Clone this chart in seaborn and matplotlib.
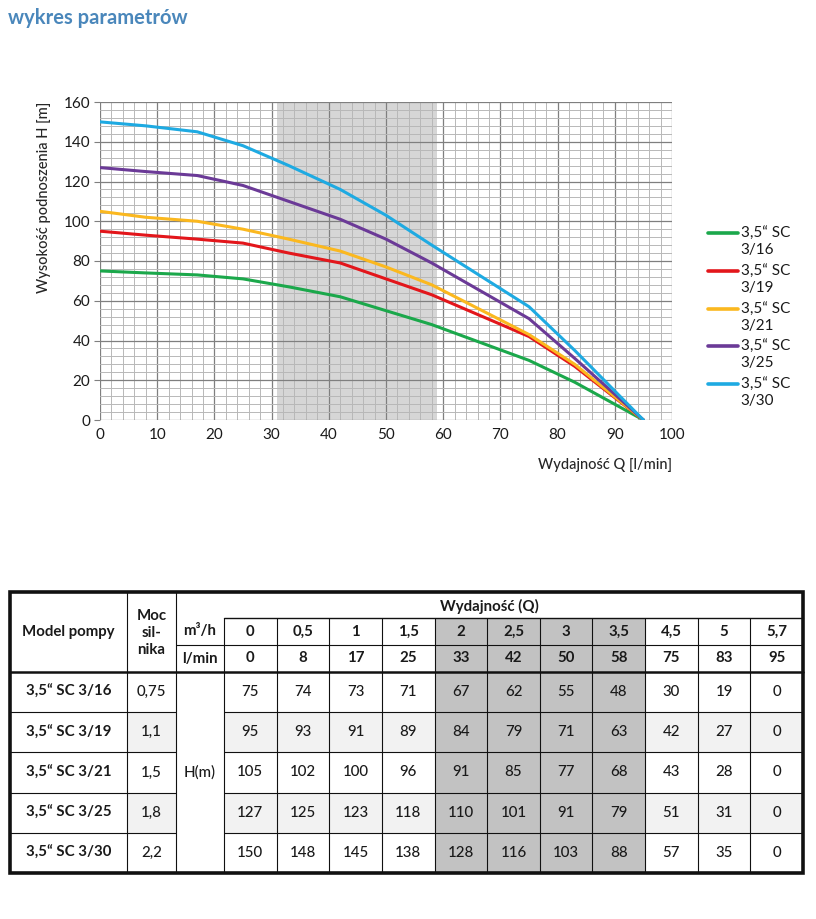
import numpy as np
import pandas as pd
import seaborn as sns
import matplotlib.pyplot as plt
from matplotlib.patches import Rectangle
from matplotlib.ticker import MultipleLocator
from matplotlib.legend_handler import HandlerLine2D

# Pump curve data
flow_m3h = ["0", "0,5", "1", "1,5", "2", "2,5", "3", "3,5", "4,5", "5", "5,7"]
flow_lmin = [0, 8, 17, 25, 33, 42, 50, 58, 75, 83, 95]
models = ["3,5“ SC 3/16", "3,5“ SC 3/19", "3,5“ SC 3/21", "3,5“ SC 3/25", "3,5“ SC 3/30"]
power_kw = ["0,75", "1,1", "1,5", "1,8", "2,2"]
head_3_16 = [75, 74, 73, 71, 67, 62, 55, 48, 30, 19, 0]
head_3_19 = [95, 93, 91, 89, 84, 79, 71, 63, 42, 27, 0]
head_3_21 = [105, 102, 100, 96, 91, 85, 77, 68, 43, 28, 0]
head_3_25 = [127, 125, 123, 118, 110, 101, 91, 79, 51, 31, 0]
head_3_30 = [150, 148, 145, 138, 128, 116, 103, 88, 57, 35, 0]
heads = [head_3_16, head_3_19, head_3_21, head_3_25, head_3_30]
colors = ["#1ba84b", "#e3161b", "#fbb81f", "#6b3a97", "#1eaae2"]
optimal_range = (31, 59)      # shaded working range [l/min]
shaded_cols = [4, 5, 6, 7]    # table columns inside that range

# long-form table for seaborn
rows = []
for model, h in zip(models, heads):
    for q, v in zip(flow_lmin, h):
        rows.append({"model": model, "Q": q, "H": v})
df = pd.DataFrame(rows)

sns.set_theme(style="white")
plt.rcParams["font.family"] = ["Lato", "DejaVu Sans"]
plt.rcParams["text.color"] = "#1a1a1a"

W, H = 816, 919
fig = plt.figure(figsize=(W / 100, H / 100), dpi=100)
fig.patch.set_facecolor("white")

# ---------------- chart ----------------
ax = fig.add_axes([100 / W, 1 - 420 / H, 572 / W, 318 / H])
ax.axvspan(*optimal_range, color="#d6d6d6", zorder=0, lw=0)
ax.xaxis.set_major_locator(MultipleLocator(10))
ax.xaxis.set_minor_locator(MultipleLocator(2))
ax.yaxis.set_major_locator(MultipleLocator(20))
ax.yaxis.set_minor_locator(MultipleLocator(4))
ax.grid(which="minor", color="#b8b8b8", lw=0.7, zorder=1)
ax.grid(which="major", color="#7f7f7f", lw=0.9, zorder=1)
ax.set_axisbelow(True)

sns.lineplot(data=df, x="Q", y="H", hue="model", palette=colors,
             lw=2.2, ax=ax, zorder=3, legend=False)

ax.set_xlim(0, 100)
ax.set_ylim(0, 160)
for s in ax.spines.values():
    s.set_visible(False)
ax.tick_params(axis="both", which="major", labelsize=11, colors="#1a1a1a",
               length=4, width=0.8, pad=3)
ax.tick_params(axis="x", length=0, pad=6)
ax.tick_params(which="minor", length=0)
ax.tick_params(axis="y", color="#7f7f7f", left=True)
ax.set_xlabel("Wydajność Q [l/min]", loc="right", fontsize=10.5, fontweight="medium",
              labelpad=11)
ax.set_ylabel("Wysokość podnoszenia H [m]", loc="top", fontsize=10.5,
              fontweight="medium", labelpad=9)


class TopLineHandler(HandlerLine2D):
    # put the legend line next to the first line of a two-line label
    def create_artists(self, *args, **kwargs):
        arts = super().create_artists(*args, **kwargs)
        for a in arts:
            a.set_ydata(np.asarray(a.get_ydata()) + 6.5)
        return arts


handles = [plt.Line2D([], [], color=c, lw=2.6) for c in colors]
labels = [m.replace(" SC ", " SC\n") for m in models]
fig.legend(handles, labels, loc="upper left", bbox_to_anchor=(694 / W, 1 - 213 / H),
           frameon=False, fontsize=11, handlelength=2.0, handletextpad=0.15,
           labelspacing=0.5, handler_map={plt.Line2D: TopLineHandler()})

fig.text(8 / W, 1 - 18 / H, "wykres parametrów", color="#4a87bb", fontsize=14.5,
         fontweight="bold", va="center", ha="left")

# ---------------- table ----------------
tx = fig.add_axes([0, 0, 1, 1])
tx.set_xlim(0, W)
tx.set_ylim(H, 0)
tx.axis("off")

x0, x_model, x_moc, x_unit, x1 = 10, 127, 176, 224, 803
y0, y_head, y_m3, y_lmin, y1 = 592, 618, 645, 672, 873
ncol = len(flow_lmin)
col_x = np.linspace(x_unit, x1, ncol + 1)
row_y = np.linspace(y_lmin, y1, len(models) + 1)
LC = "#111111"

# backgrounds
for i in range(len(models)):
    if i % 2 == 1:
        tx.add_patch(Rectangle((x_model, row_y[i]), x_moc - x_model, row_y[i + 1] - row_y[i],
                               color="#f2f2f2", lw=0))
        tx.add_patch(Rectangle((col_x[0], row_y[i]), x1 - col_x[0], row_y[i + 1] - row_y[i],
                               color="#f2f2f2", lw=0))
for c in shaded_cols:
    tx.add_patch(Rectangle((col_x[c], y_head), col_x[c + 1] - col_x[c], y1 - y_head,
                           color="#c2c2c2", lw=0))

# lines
tx.plot([x_unit, x1], [y_head, y_head], color=LC, lw=1)
tx.plot([x_moc, x1], [y_m3, y_m3], color=LC, lw=0.8)
tx.plot([x0, x1], [y_lmin, y_lmin], color=LC, lw=1.8)
for y in row_y[1:-1]:
    tx.plot([x0, x_moc], [y, y], color=LC, lw=0.8)
    tx.plot([x_unit, x1], [y, y], color=LC, lw=0.8)
tx.plot([x_model, x_model], [y0, y1], color=LC, lw=0.8)
tx.plot([x_moc, x_moc], [y0, y1], color=LC, lw=0.8)
tx.plot([x_unit, x_unit], [y_head, y1], color=LC, lw=0.8)
for xv in col_x[1:-1]:
    tx.plot([xv, xv], [y_head, y1], color=LC, lw=0.8)
tx.add_patch(Rectangle((x0, y0), x1 - x0, y1 - y0, fill=False, ec=LC, lw=2.6))

# header text
kw = dict(ha="center", va="center", fontsize=10.8, fontweight="bold")
body = dict(ha="center", va="center", fontsize=10.8, fontweight="medium")
tx.text((x0 + x_model) / 2, (y0 + y_lmin) / 2, "Model pompy", **kw)
tx.text((x_model + x_moc) / 2, (y0 + y_lmin) / 2 + 1, "Moc\nsil-\nnika", linespacing=1.3, **kw)
tx.text((x_moc + x1) / 2, (y0 + y_head) / 2 + 1, "Wydajność (Q)", **kw)
tx.text((x_moc + x_unit) / 2, (y_head + y_m3) / 2, "m³/h", **kw)
tx.text((x_moc + x_unit) / 2, (y_m3 + y_lmin) / 2, "l/min", **kw)
for j in range(ncol):
    cx = (col_x[j] + col_x[j + 1]) / 2
    tx.text(cx, (y_head + y_m3) / 2, flow_m3h[j], **kw)
    tx.text(cx, (y_m3 + y_lmin) / 2, str(flow_lmin[j]), **kw)

# body text
tx.text((x_moc + x_unit) / 2, (y_lmin + y1) / 2, "H(m)", **body)
for i, (m, p, h) in enumerate(zip(models, power_kw, heads)):
    cy = (row_y[i] + row_y[i + 1]) / 2
    tx.text((x0 + x_model) / 2, cy, m, **kw)
    tx.text((x_model + x_moc) / 2, cy, p, **body)
    for j in range(ncol):
        tx.text((col_x[j] + col_x[j + 1]) / 2, cy, str(h[j]), **body)

fig.savefig("out.png", dpi=100, facecolor="white")
